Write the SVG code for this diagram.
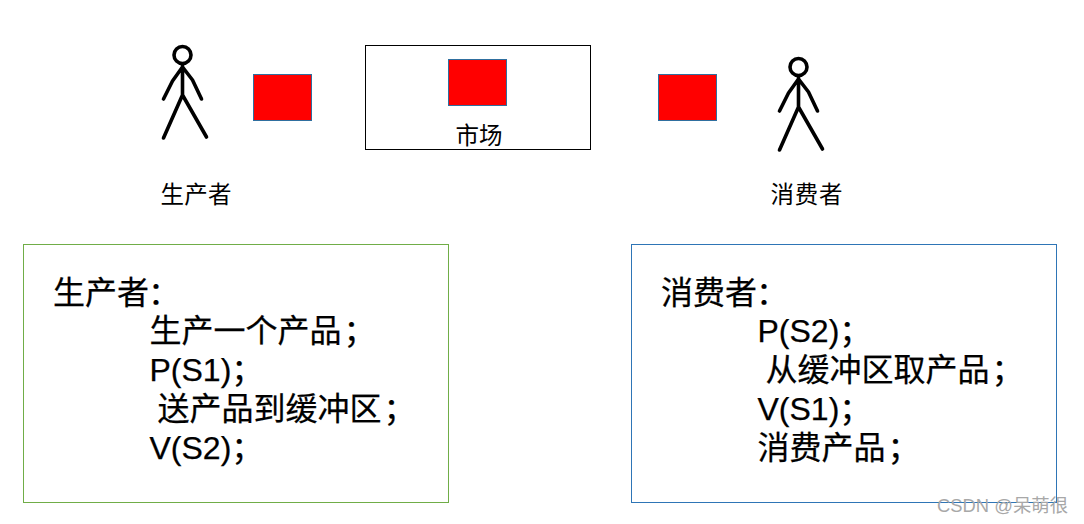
<svg xmlns="http://www.w3.org/2000/svg" width="1084" height="524" viewBox="0 0 1084 524">
<style>
text{font-family:"Liberation Sans","Noto Sans CJK SC",sans-serif;fill:#000}
.b{font-size:32px;stroke:#000;stroke-width:.25}
.s{font-size:23.5px}
.red{fill:#f00;stroke:#2f6f9f;stroke-width:1}
.fig{fill:none;stroke:#000;stroke-width:3.600;stroke-linecap:round;stroke-linejoin:round}
</style>
<defs>
<g id="man" class="fig">
<circle cx="0" cy="0" r="8.500"/>
<path d="M0 9V40M0 12L-10 26L-19 44M0 12L10 25L19 44M0 40L-19 83M0 40L24 82"/>
</g>
</defs>
<rect width="1084" height="524" fill="#fff"/>
<g id="producer"><use href="#man" x="182.500" y="55"/><text class="s" x="160.500" y="203" textLength="71">生产者</text></g>
<rect id="buffer-left" class="red" x="253.500" y="74.500" width="58" height="46"/>
<g id="market">
<rect x="365.500" y="45.500" width="225" height="104" fill="#fff" stroke="#000"/>
<rect class="red" x="448.500" y="59.500" width="58" height="46"/>
<text class="s" x="455.500" y="144">市场</text>
</g>
<rect id="buffer-right" class="red" x="658.500" y="74.500" width="58" height="46"/>
<g id="consumer"><use href="#man" x="798.500" y="67"/><text class="s" x="770.500" y="203" textLength="72">消费者</text></g>
<g id="producer-code">
<rect x="23.500" y="244.500" width="425" height="258" fill="#fff" stroke="#70ad47"/>
<text class="b" x="53" y="304">生产者<tspan dx="-1">：</tspan></text>
<text class="b" x="149.500" y="342">生产一个产品<tspan dx="2">；</tspan></text>
<text class="b" x="149.500" y="381">P(S1)；</text>
<text class="b" x="157.500" y="420">送产品到缓冲区<tspan dx="2">；</tspan></text>
<text class="b" x="149.500" y="459">V(S2)；</text>
</g>
<g id="consumer-code">
<rect x="631.500" y="244.500" width="425" height="258" fill="#fff" stroke="#2e75b6"/>
<text class="b" x="661" y="304">消费者<tspan dx="-1">：</tspan></text>
<text class="b" x="757.500" y="342">P(S2)；</text>
<text class="b" x="765.500" y="381">从缓冲区取产品<tspan dx="2">；</tspan></text>
<text class="b" x="757.500" y="420">V(S1)；</text>
<text class="b" x="757.500" y="459">消费产品<tspan dx="2">；</tspan></text>
</g>
<g id="connectors"></g>
<text x="937" y="512" font-size="18.400" style="fill:#a8a8a8">CSDN @呆萌很</text>
</svg>
